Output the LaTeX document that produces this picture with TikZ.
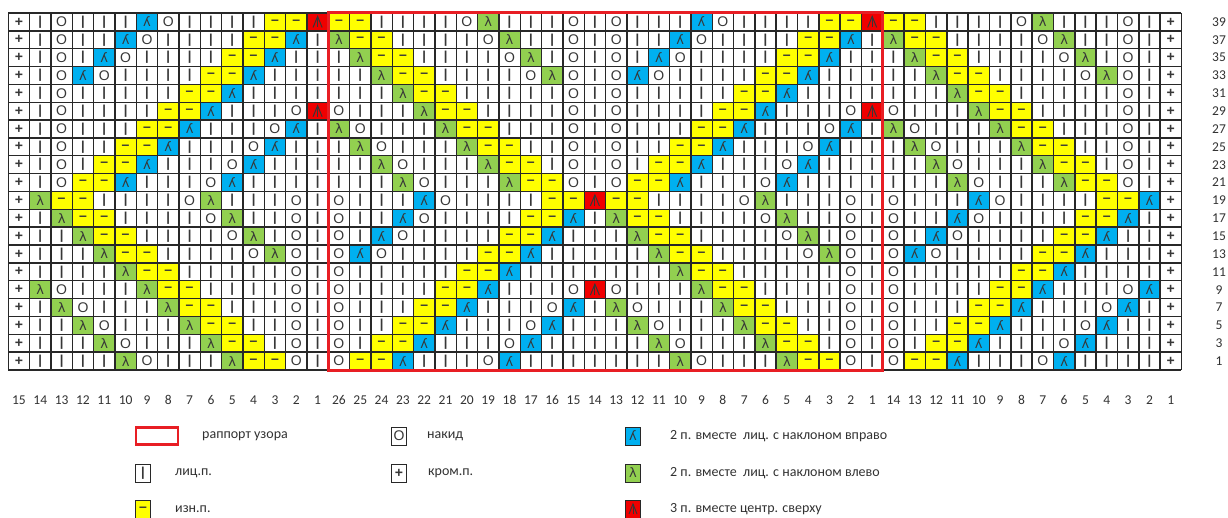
\documentclass[tikz,border=0pt]{standalone}
\usepackage{fontspec}
\usetikzlibrary{calc}
\setmainfont{Carlito}
\newfontfamily\symfont{Liberation Sans}
\newfontfamily\dvfont{DejaVu Sans}
\definecolor{cyel}{RGB}{255,255,0}
\definecolor{cblue}{RGB}{0,176,240}
\definecolor{cgreen}{RGB}{146,208,80}
\definecolor{cred}{RGB}{240,0,0}
\definecolor{gridc}{RGB}{40,40,40}
\definecolor{symc}{RGB}{55,55,55}
\definecolor{framec}{RGB}{232,30,36}
\definecolor{labc}{RGB}{50,50,50}
\tikzset{
  symbase/.style={inner sep=0pt, text=symc},
  symk/.style={symbase, font=\symfont\bfseries\fontsize{13}{13}\selectfont},
  symo/.style={symbase, font=\symfont\fontsize{14}{14}\selectfont},
  symp/.style={symbase, font=\symfont\bfseries\fontsize{14}{14}\selectfont},
  symm/.style={symbase, font=\symfont\bfseries\fontsize{14}{14}\selectfont},
  syml/.style={symbase, font=\dvfont\fontsize{13}{13}\selectfont},
  redsym/.style={draw=symc, line width=1pt},
  gridline/.style={draw=gridc, line width=1.4pt},
  frameline/.style={draw=framec, line width=3pt},
  rownum/.style={inner sep=0pt, text=labc, font=\fontsize{13.5}{13.5}\selectfont},
  colnum/.style={inner sep=0pt, text=labc, font=\fontsize{13.5}{13.5}\selectfont},
  legbox/.style={draw=gridc, line width=1pt, minimum width=15pt, minimum height=18pt, inner sep=0pt},
  legtext/.style={anchor=west, inner sep=0pt, text=labc, font=\fontsize{14}{14}\selectfont},
}
\newcommand\setc[2]{\pgfmathsetmacro\cx{8.3+21.33*(#1+0.5)}\pgfmathsetmacro\cy{13+17.85*(#2+0.5)}}
\newcommand\cfill[3]{\fill[#3] ({8.3+21.33*#1},{13+17.85*#2}) rectangle ++(21.33,17.85);}
\newcommand\kcP[2]{\setc{#1}{#2}\node[symp] (s#1-#2) at (\cx,\cy) {+};}
\newcommand\kcK[2]{\setc{#1}{#2}\node[symk] (s#1-#2) at (\cx,\cy) {|};}
\newcommand\kcO[2]{\setc{#1}{#2}\node[symo] (s#1-#2) at (\cx,\cy) {O};}
\newcommand\kcM[2]{\cfill{#1}{#2}{cyel}\setc{#1}{#2}\node[symm] (s#1-#2) at (\cx,\cy) {–};}
\newcommand\kcL[2]{\cfill{#1}{#2}{cgreen}\setc{#1}{#2}\node[syml] (s#1-#2) at (\cx,\cy) {λ};}
\newcommand\kcR[2]{\cfill{#1}{#2}{cblue}\setc{#1}{#2}\node[syml] (s#1-#2) at (\cx,\cy) {ʎ};}
\newcommand\kcA[2]{\cfill{#1}{#2}{cred}\setc{#1}{#2}\coordinate (s#1-#2) at (\cx,\cy);
  \draw[redsym] ({\cx-4.5},{\cy+5.5}) -- ({\cx},{\cy-5.5}) -- ({\cx+4.5},{\cy+5.5});
  \draw[redsym] ({\cx},{\cy-5.5}) -- ({\cx},{\cy+5.5});}
\let\kcEK\kcK \let\kcEA\kcL \let\kcEO\kcO \let\kcEM\kcM \let\kcEL\kcL \let\kcER\kcR
\let\kcFK\kcK \let\kcFA\kcR \let\kcFO\kcO \let\kcFM\kcM \let\kcFL\kcL \let\kcFR\kcR
\def\chartrows{%
{M,M,K,K,K,K,O,L,K,K,K,O,K,O,K,K,K,R,O,K,K,K,K,M,M,A},%
{L,M,M,K,K,K,K,O,L,K,K,O,K,O,K,K,R,O,K,K,K,K,M,M,R,K},%
{K,L,M,M,K,K,K,K,O,L,K,O,K,O,K,R,O,K,K,K,K,M,M,R,K,K},%
{K,K,L,M,M,K,K,K,K,O,L,O,K,O,R,O,K,K,K,K,M,M,R,K,K,K},%
{K,K,K,L,M,M,K,K,K,K,K,O,K,O,K,K,K,K,K,M,M,R,K,K,K,K},%
{O,K,K,K,L,M,M,K,K,K,K,O,K,O,K,K,K,K,M,M,R,K,K,K,O,A},%
{L,O,K,K,K,L,M,M,K,K,K,O,K,O,K,K,K,M,M,R,K,K,K,O,R,K},%
{K,L,O,K,K,K,L,M,M,K,K,O,K,O,K,K,M,M,R,K,K,K,O,R,K,K},%
{K,K,L,O,K,K,K,L,M,M,K,O,K,O,K,M,M,R,K,K,K,O,R,K,K,K},%
{K,K,K,L,O,K,K,K,L,M,M,O,K,O,M,M,R,K,K,K,O,R,K,K,K,K},%
{O,K,K,K,R,O,K,K,K,K,M,M,A,M,M,K,K,K,K,O,L,K,K,K,O,K},%
{O,K,K,R,O,K,K,K,K,M,M,R,K,L,M,M,K,K,K,K,O,L,K,K,O,K},%
{O,K,R,O,K,K,K,K,M,M,R,K,K,K,L,M,M,K,K,K,K,O,L,K,O,K},%
{O,R,O,K,K,K,K,M,M,R,K,K,K,K,K,L,M,M,K,K,K,K,O,L,O,K},%
{O,K,K,K,K,K,M,M,R,K,K,K,K,K,K,K,L,M,M,K,K,K,K,K,O,K},%
{O,K,K,K,K,M,M,R,K,K,K,O,A,O,K,K,K,L,M,M,K,K,K,K,O,K},%
{O,K,K,K,M,M,R,K,K,K,O,R,K,L,O,K,K,K,L,M,M,K,K,K,O,K},%
{O,K,K,M,M,R,K,K,K,O,R,K,K,K,L,O,K,K,K,L,M,M,K,K,O,K},%
{O,K,M,M,R,K,K,K,O,R,K,K,K,K,K,L,O,K,K,K,L,M,M,K,O,K},%
{O,M,M,R,K,K,K,O,R,K,K,K,K,K,K,K,L,O,K,K,K,L,M,M,O,K}}
\begin{document}
\begin{tikzpicture}[x=1pt,y=-1pt]
\useasboundingbox (0,0) rectangle (1228,518);
\fill[white] (0,0) rectangle (1228,518);
\foreach \rowdata [count=\ri from 0] in \chartrows {
  \kcP{0}{\ri}\kcP{54}{\ri}
  \foreach \code [count=\k from 0] in \rowdata {
    \pgfmathtruncatemacro\colM{\k+15}
    \csname kc\code\endcsname{\colM}{\ri}
    \ifnum\k>11
      \pgfmathtruncatemacro\colL{\k-11}
      \ifnum\k=12 \csname kcE\code\endcsname{\colL}{\ri}\else\csname kc\code\endcsname{\colL}{\ri}\fi
    \fi
    \ifnum\k<13
      \pgfmathtruncatemacro\colR{\k+41}
      \ifnum\k=12 \csname kcF\code\endcsname{\colR}{\ri}\else\csname kc\code\endcsname{\colR}{\ri}\fi
    \fi
  }
}
% grid
\foreach \c in {0,...,55} \draw[gridline] ({8.3+21.33*\c},13) -- ({8.3+21.33*\c},{13+17.85*20});
\foreach \r in {0,...,20} \draw[gridline] (8.3,{13+17.85*\r}) -- ({8.3+21.33*55},{13+17.85*\r});
% repeat frame
\draw[frameline] ({8.3+21.33*15},13) rectangle ({8.3+21.33*41},{13+17.85*20});
% row numbers
\foreach \n [count=\i from 0] in {39,37,35,33,31,29,27,25,23,21,19,17,15,13,11,9,7,5,3,1}
  \node[rownum] (rn\i) at (1219,{13+17.85*(\i+0.5)}) {\n};
% column numbers
\foreach \c in {0,...,54}{
  \pgfmathtruncatemacro\lab{\c<15 ? 15-\c : (\c<41 ? 41-\c : 55-\c)}
  \node[colnum] (cn\c) at ({8.3+21.33*(\c+0.5)},400) {\lab};
}
% legend
\node[draw=framec, line width=2.5pt, minimum width=42pt, minimum height=17pt, inner sep=0pt] (lrep) at (157,436) {};
\node[legtext] (trep) at (202,436) {раппорт узора};
\node[legbox, symo] (lo) at (399,436) {O};
\node[legtext] (to) at (427,436) {накид};
\node[legbox, fill=cblue, syml] (lr) at (633,436) {ʎ};
\node[legtext] (tr) at (670,436) {2 п. вместе \ лиц. с наклоном вправо};
\node[legbox, symk] (lk) at (143,473) {|};
\node[legtext] (tk) at (175,473) {лиц.п.};
\node[legbox, symp] (lp) at (399,473) {+};
\node[legtext] (tp) at (428,473) {кром.п.};
\node[legbox, fill=cgreen, syml] (ll) at (633,473) {λ};
\node[legtext] (tl) at (670,473) {2 п. вместе \ лиц. с наклоном влево};
\node[legbox, fill=cyel, symm] (lm) at (143,509) {–};
\node[legtext] (tm) at (175,509) {изн.п.};
\node[legbox, fill=cred] (la) at (633,509) {};
\draw[redsym] ($(la.center)+(-4,5)$) -- ($(la.center)+(0,-5)$) -- ($(la.center)+(4,5)$);
\draw[redsym] ($(la.center)+(0,-5)$) -- ($(la.center)+(0,5)$);
\node[legtext] (ta) at (670,509) {3 п. вместе центр. сверху};
\end{tikzpicture}
\end{document}
